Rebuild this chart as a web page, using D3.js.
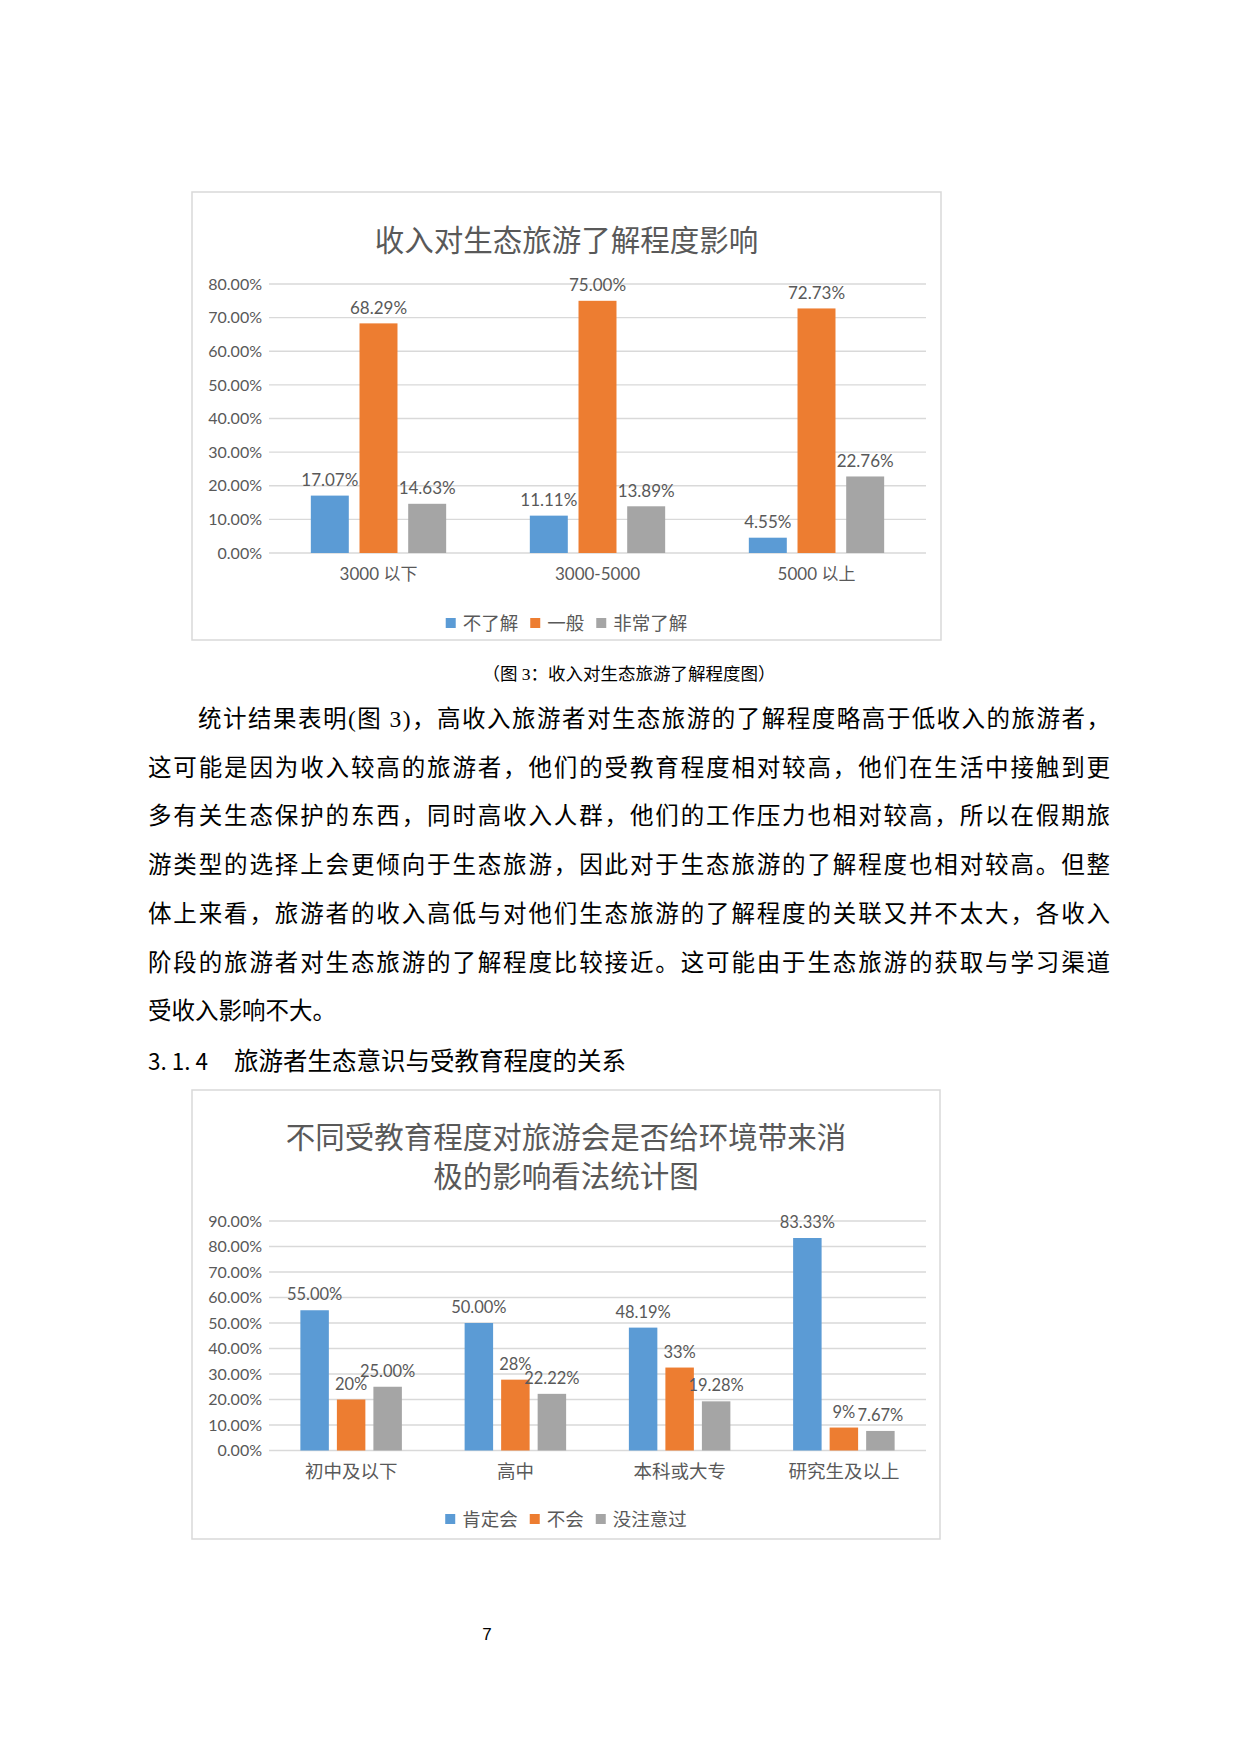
<!DOCTYPE html>
<html lang="zh">
<head>
<meta charset="UTF-8">
<title>收入与受教育程度统计图</title>
<script src="https://d3js.org/d3.v7.min.js"></script>
<style>
  body { margin: 0; background: #fff; }
  svg { display: block; }
  .chart-text { font-family: "Lato", "Noto Sans CJK SC", sans-serif; fill: #595959; }
  .body-text { font-family: "Liberation Serif", "Noto Sans CJK SC", serif; fill: #000; }
</style>
</head>
<body>
<svg id="page" width="1234" height="1748"></svg>
<script>
// ---- chart 1 data: 收入对生态旅游了解程度影响 ----
const incomeCats = ["3000 以下", "3000-5000", "5000 以上"];
const incomeSeries = ["不了解", "一般", "非常了解"];
const incomeNotKnow = [17.07, 11.11, 4.55];
const incomeGeneral = [68.29, 75.00, 72.73];
const incomeVeryKnow = [14.63, 13.89, 22.76];
const incomeTicks = [0, 10, 20, 30, 40, 50, 60, 70, 80];

// ---- chart 2 data: 受教育程度 vs 旅游是否给环境带来消极影响 ----
const eduCats = ["初中及以下", "高中", "本科或大专", "研究生及以上"];
const eduSeries = ["肯定会", "不会", "没注意过"];
const eduYes = [55.00, 50.00, 48.19, 83.33];
const eduNo = [20.00, 27.78, 32.53, 9.00];
const eduNotNoticed = [25.00, 22.22, 19.28, 7.67];
const eduTicks = [0, 10, 20, 30, 40, 50, 60, 70, 80, 90];
const eduLabelFormats = [".2%", ".0%", ".2%"];

const colors = ["#5B9BD5", "#ED7D31", "#A5A5A5"];

// page text
const caption = "（图 3：收入对生态旅游了解程度图）";
const paragraph = [
  "统计结果表明(图 3)，高收入旅游者对生态旅游的了解程度略高于低收入的旅游者，",
  "这可能是因为收入较高的旅游者，他们的受教育程度相对较高，他们在生活中接触到更",
  "多有关生态保护的东西，同时高收入人群，他们的工作压力也相对较高，所以在假期旅",
  "游类型的选择上会更倾向于生态旅游，因此对于生态旅游的了解程度也相对较高。但整",
  "体上来看，旅游者的收入高低与对他们生态旅游的了解程度的关联又并不太大，各收入",
  "阶段的旅游者对生态旅游的了解程度比较接近。这可能由于生态旅游的获取与学习渠道",
  "受收入影响不大。"
];
const headingNum = "3. 1. 4";
const headingText = "旅游者生态意识与受教育程度的关系";
const pageNumber = "7";

const svg = d3.select("#page");

function drawChart(cfg) {
  const g = svg.append("g");

  // outer frame
  g.append("rect")
    .attr("x", cfg.box.x).attr("y", cfg.box.y)
    .attr("width", cfg.box.w).attr("height", cfg.box.h)
    .attr("fill", "#fff").attr("stroke", "#d9d9d9").attr("stroke-width", 1.5);

  const cx = cfg.box.x + cfg.box.w / 2;

  // title
  g.selectAll(".title").data(cfg.title).enter().append("text")
    .attr("class", "chart-text")
    .attr("x", cx)
    .attr("y", (d, i) => cfg.titleY + i * 39)
    .attr("text-anchor", "middle")
    .attr("dominant-baseline", "central")
    .style("font-size", "29.5px")
    .text(d => d);

  const y = d3.scaleLinear().domain([0, d3.max(cfg.ticks) / 100]).range([cfg.zeroY, cfg.topY]);
  const x0 = d3.scaleBand().domain(cfg.cats).range([cfg.left, cfg.right])
    .paddingInner(0.382).paddingOuter(0.191);
  const x1 = d3.scaleBand().domain(d3.range(cfg.series.length))
    .range([0, x0.bandwidth()]).paddingInner(0.22);

  // gridlines
  g.selectAll(".grid").data(cfg.ticks).enter().append("line")
    .attr("x1", cfg.left).attr("x2", cfg.right)
    .attr("y1", d => y(d / 100)).attr("y2", d => y(d / 100))
    .attr("stroke", "#d9d9d9").attr("stroke-width", 1.3);

  // y axis labels
  const yAxis = g.append("g")
    .attr("transform", `translate(${cfg.left},0)`)
    .call(d3.axisLeft(y).tickValues(cfg.ticks.map(d => d / 100))
      .tickFormat(d3.format(".2%")).tickSize(0).tickPadding(7));
  yAxis.select(".domain").remove();
  yAxis.selectAll("text")
    .attr("class", "chart-text")
    .attr("fill", null)
    .style("font-size", "16px")
    .style("font-family", null);

  // x axis labels
  const xAxis = g.append("g")
    .attr("transform", `translate(0,${cfg.zeroY})`)
    .call(d3.axisBottom(x0).tickSize(0).tickPadding(0));
  xAxis.select(".domain").remove();
  xAxis.selectAll("text")
    .attr("class", "chart-text")
    .attr("fill", null)
    .attr("y", 20).attr("dy", null)
    .attr("dominant-baseline", "central")
    .style("font-size", cfg.catFont)
    .style("font-family", null);

  // bars + labels
  const rows = [];
  cfg.values.forEach((vals, s) => {
    vals.forEach((v, c) => rows.push({ s, cat: cfg.cats[c], v: v / 100 }));
  });

  g.selectAll(".bar").data(rows).enter().append("rect")
    .attr("x", d => x0(d.cat) + x1(d.s))
    .attr("y", d => y(d.v))
    .attr("width", x1.bandwidth())
    .attr("height", d => cfg.zeroY - y(d.v))
    .attr("fill", d => colors[d.s]);

  g.selectAll(".lbl").data(rows).enter().append("text")
    .attr("class", "chart-text")
    .attr("x", d => x0(d.cat) + x1(d.s) + x1.bandwidth() / 2)
    .attr("y", d => y(d.v) - 16)
    .attr("text-anchor", "middle")
    .attr("dominant-baseline", "central")
    .style("font-size", cfg.labelFont)
    .text(d => d3.format(cfg.formats[d.s])(d.v));

  // legend
  const leg = g.append("g");
  let lx = 0;
  cfg.series.forEach((name, i) => {
    const item = leg.append("g").attr("transform", `translate(${lx},0)`);
    item.append("rect").attr("x", 0).attr("y", -5).attr("width", 10).attr("height", 10)
      .attr("fill", colors[i]);
    const t = item.append("text").attr("class", "chart-text")
      .attr("x", 17).attr("y", 0)
      .attr("dominant-baseline", "central")
      .style("font-size", "18.5px")
      .text(name);
    lx += 17 + t.node().getComputedTextLength() + 12;
  });
  const legW = lx - 12;
  leg.attr("transform", `translate(${cx - legW / 2},${cfg.legendY})`);
}

drawChart({
  box: { x: 192, y: 192, w: 749, h: 448 },
  title: ["收入对生态旅游了解程度影响"],
  titleY: 239,
  cats: incomeCats,
  series: incomeSeries,
  values: [incomeNotKnow, incomeGeneral, incomeVeryKnow],
  formats: [".2%", ".2%", ".2%"],
  ticks: incomeTicks,
  left: 269, right: 926,
  zeroY: 553, topY: 284,
  catFont: "17px",
  labelFont: "17px",
  legendY: 623
});

drawChart({
  box: { x: 192, y: 1090, w: 748, h: 449 },
  title: ["不同受教育程度对旅游会是否给环境带来消", "极的影响看法统计图"],
  titleY: 1136,
  cats: eduCats,
  series: eduSeries,
  values: [eduYes, eduNo, eduNotNoticed],
  formats: eduLabelFormats,
  ticks: eduTicks,
  left: 269, right: 926,
  zeroY: 1450.5, topY: 1221,
  catFont: "18.5px",
  labelFont: "16.5px",
  legendY: 1519
});

// caption
svg.append("text").attr("class", "body-text")
  .attr("x", 629).attr("y", 674)
  .attr("text-anchor", "middle").attr("dominant-baseline", "central")
  .style("font-size", "17.5px")
  .text(caption);

// paragraph, justified lines
const textLeft = 148, textRight = 1110, lineGap = 48.7, firstLineY = 719;
svg.selectAll(".para").data(paragraph).enter().append("text")
  .attr("class", "body-text")
  .attr("x", (d, i) => i === 0 ? textLeft + 50 : textLeft)
  .attr("y", (d, i) => firstLineY + i * lineGap)
  .attr("dominant-baseline", "central")
  .style("font-size", "23.5px")
  .each(function (d, i) {
    if (i < paragraph.length - 1) {
      d3.select(this)
        .attr("textLength", i === 0 ? textRight - textLeft - 50 : textRight - textLeft)
        .attr("lengthAdjust", "spacing");
    }
  })
  .text(d => d);

// section heading
const headY = firstLineY + paragraph.length * lineGap;
svg.append("text")
  .attr("x", textLeft).attr("y", headY)
  .attr("dominant-baseline", "central")
  .style("font-family", "'Noto Sans CJK SC', sans-serif")
  .style("font-size", "22.5px")
  .text(headingNum);
svg.append("text")
  .attr("x", 234).attr("y", headY)
  .attr("dominant-baseline", "central")
  .style("font-family", "'Noto Sans CJK SC', sans-serif")
  .style("font-size", "24.5px")
  .text(headingText);

// page number
svg.append("text")
  .attr("x", 487).attr("y", 1634)
  .attr("text-anchor", "middle").attr("dominant-baseline", "central")
  .style("font-family", "'Liberation Sans', sans-serif")
  .style("font-size", "17px")
  .text(pageNumber);
</script>
</body>
</html>
